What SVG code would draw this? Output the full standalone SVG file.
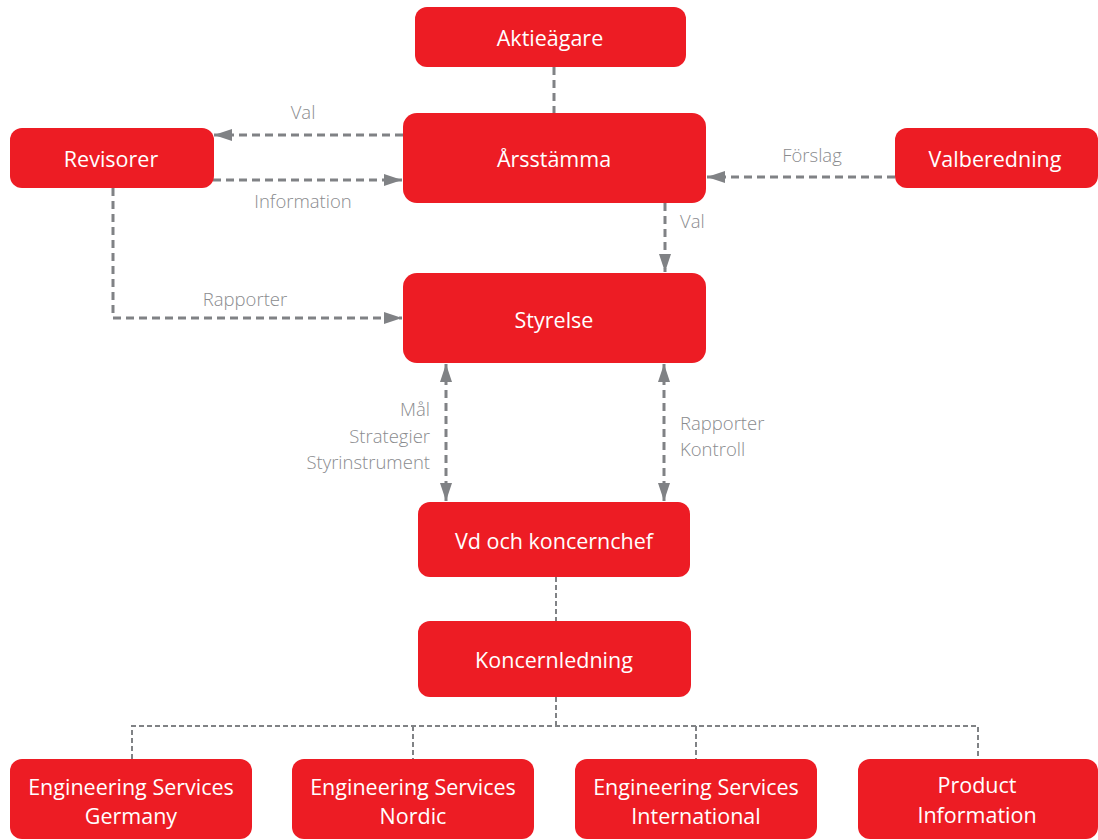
<svg xmlns="http://www.w3.org/2000/svg" width="1098" height="840" viewBox="0 0 1098 840">
<style>
.box{fill:#ED1C24}
.t{font-family:"Open Sans","Liberation Sans",sans-serif;font-size:21.5px;fill:#fff;text-anchor:middle;dominant-baseline:central}
.lbl{font-family:"Open Sans","Liberation Sans",sans-serif;font-size:18.5px;font-weight:300;fill:#8a8b8e}
.c{fill:none;stroke:#808285;stroke-width:3;stroke-dasharray:8 5}
.c2{fill:none;stroke:#808285;stroke-width:2;stroke-dasharray:5 3}
</style>
<defs>
<marker id="ahL" viewBox="0 0 18 12" refX="18" refY="6" markerWidth="18" markerHeight="12" markerUnits="userSpaceOnUse" orient="auto-start-reverse">
<path d="M0,0 L18,6 L0,12 Z" fill="#808285"/>
</marker>
</defs>
<g id="connectors">
<line class="c" x1="554" y1="67" x2="554" y2="113"/>
<line class="c" x1="403" y1="135" x2="214" y2="135" marker-end="url(#ahL)"/>
<line class="c" x1="213" y1="180" x2="402" y2="180" marker-end="url(#ahL)"/>
<line class="c" x1="895" y1="177" x2="707" y2="177" marker-end="url(#ahL)"/>
<line class="c" x1="665" y1="203" x2="665" y2="272" marker-end="url(#ahL)"/>
<polyline class="c" points="113,188 113,318 402,318" marker-end="url(#ahL)"/>
<line class="c" x1="446" y1="364" x2="446" y2="501" marker-start="url(#ahL)" marker-end="url(#ahL)"/>
<line class="c" x1="664" y1="364" x2="664" y2="501" marker-start="url(#ahL)" marker-end="url(#ahL)"/>
<line class="c2" x1="556" y1="577" x2="556" y2="621"/>
<line class="c2" x1="556" y1="697" x2="556" y2="726"/>
<polyline class="c2" points="132,759 132,726 978,726 978,759"/>
<line class="c2" x1="413" y1="726" x2="413" y2="759"/>
<line class="c2" x1="696" y1="726" x2="696" y2="759"/>
<text class="lbl" x="303" y="119" text-anchor="middle">Val</text>
<text class="lbl" x="303" y="208" text-anchor="middle">Information</text>
<text class="lbl" x="812" y="162" text-anchor="middle">Förslag</text>
<text class="lbl" x="680" y="228">Val</text>
<text class="lbl" x="245" y="306" text-anchor="middle">Rapporter</text>
<text class="lbl" x="430" y="416" text-anchor="end">Mål</text>
<text class="lbl" x="430" y="443" text-anchor="end">Strategier</text>
<text class="lbl" x="430" y="469" text-anchor="end">Styrinstrument</text>
<text class="lbl" x="680" y="430">Rapporter</text>
<text class="lbl" x="680" y="456">Kontroll</text>
</g>
<g id="aktieagare"><rect class="box" x="415" y="7" width="271" height="60" rx="12"/><text class="t" x="550" y="37">Aktieägare</text></g>
<g id="arsstamma"><rect class="box" x="403" y="113" width="303" height="90" rx="14"/><text class="t" x="554" y="158">Årsstämma</text></g>
<g id="revisorer"><rect class="box" x="10" y="128" width="204" height="60" rx="12"/><text class="t" x="111" y="158">Revisorer</text></g>
<g id="valberedning"><rect class="box" x="895" y="128" width="203" height="60" rx="12"/><text class="t" x="995" y="158">Valberedning</text></g>
<g id="styrelse"><rect class="box" x="403" y="273" width="303" height="90" rx="14"/><text class="t" x="554" y="319">Styrelse</text></g>
<g id="vd"><rect class="box" x="418" y="502" width="272" height="75" rx="12"/><text class="t" x="554" y="540">Vd och koncernchef</text></g>
<g id="koncernledning"><rect class="box" x="418" y="621" width="273" height="76" rx="12"/><text class="t" x="554" y="659">Koncernledning</text></g>
<g id="es-germany"><rect class="box" x="10" y="759" width="242" height="80" rx="12"/><text class="t" x="131" y="786">Engineering Services</text><text class="t" x="131" y="815">Germany</text></g>
<g id="es-nordic"><rect class="box" x="292" y="759" width="242" height="80" rx="12"/><text class="t" x="413" y="786">Engineering Services</text><text class="t" x="413" y="815">Nordic</text></g>
<g id="es-international"><rect class="box" x="575" y="759" width="242" height="80" rx="12"/><text class="t" x="696" y="786">Engineering Services</text><text class="t" x="696" y="815">International</text></g>
<g id="product-information"><rect class="box" x="858" y="759" width="240" height="80" rx="12"/><text class="t" x="977" y="784">Product</text><text class="t" x="977" y="814">Information</text></g>
</svg>
